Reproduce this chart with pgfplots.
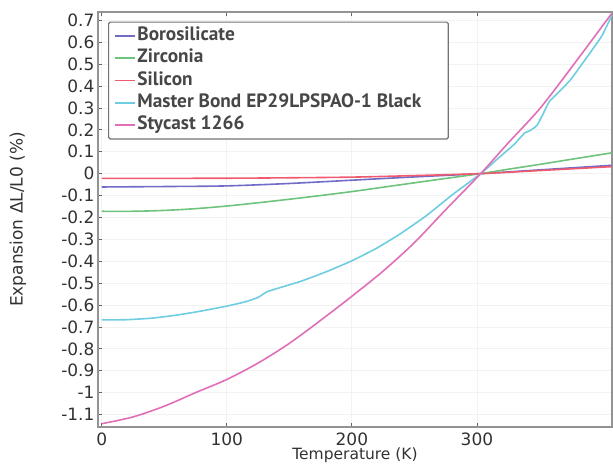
\documentclass[border=0pt]{standalone}
\usepackage{fontspec}
\setmainfont{DejaVu Sans}
\newfontfamily\legfont{PT Sans}
\usepackage{pgfplots}
\pgfplotsset{compat=1.18}

\definecolor{boro}{RGB}{112,108,200}
\definecolor{zirc}{RGB}{110,195,125}
\definecolor{sili}{RGB}{240,90,110}
\definecolor{mast}{RGB}{110,205,225}
\definecolor{styc}{RGB}{225,110,185}
\definecolor{txt}{RGB}{50,50,50}

\begin{document}
\begin{tikzpicture}
\begin{axis}[
    name=ax,
    scale only axis,
    width=514pt, height=415pt,
    xmin=-3, xmax=408,
    ymin=-1.157, ymax=0.738,
    xtick={0,100,200,300},
    ytick={-1.1,-1,-0.9,-0.8,-0.7,-0.6,-0.5,-0.4,-0.3,-0.2,-0.1,0,0.1,0.2,0.3,0.4,0.5,0.6,0.7},
    yticklabels={-1.1,-1,-0.9,-0.8,-0.7,-0.6,-0.5,-0.4,-0.3,-0.2,-0.1,0,0.1,0.2,0.3,0.4,0.5,0.6,0.7},
    xticklabels={0,100,200,300},
    ytick pos=left,
    tick align=inside,
    major tick length=4pt,
    tick style={gray!80!black, line width=0.8pt},
    axis line style={gray!85, line width=1.6pt},
    grid=major,
    major grid style={gray!10, line width=0.8pt},
    ticklabel style={font=\fontsize{17}{17}\selectfont, text=txt},
    xticklabel style={anchor=base, yshift=-18pt, inner sep=0.5pt},
    xlabel={Temperature (K)},
    ylabel={Expansion ΔL/L0 (\%)},
    xlabel style={at={(axis description cs:0.5,-0.078)}, anchor=base, inner sep=0.5pt,
        font=\fontsize{15.5}{15.5}\selectfont, text=txt},
    ylabel style={at={(axis description cs:-0.156,0.5)}, anchor=center,
        font=\fontsize{17}{17}\selectfont, text=txt},
    every axis plot/.append style={line width=1.6pt},
    legend cell align=left,
    legend image code/.code={\draw[#1, line width=1.8pt] (0pt,0pt) -- (20pt,0pt);},
    legend style={at={(axis description cs:0.0195,0.977)}, anchor=north west,
        draw=gray!90!black, line width=1.2pt, rounded corners=1.5pt,
        fill=white, inner xsep=5pt, inner ysep=5pt,
        row sep=4.2pt,
        font=\legfont\bfseries\fontsize{19.3}{20}\selectfont, text=black!72,
        nodes={inner xsep=2pt, inner ysep=0pt, text height=13.5pt, text depth=4.5pt}},
]
\addplot[boro, smooth] coordinates {
    (0,-0.061) (50,-0.059) (100,-0.056) (150,-0.045) (200,-0.03)
    (250,-0.015) (303,0.0) (350,0.017) (408,0.038)
};
\addlegendentry{Borosilicate}

\addplot[zirc, smooth] coordinates {
    (0,-0.172) (25,-0.172) (50,-0.168) (75,-0.16) (100,-0.148)
    (125,-0.133) (150,-0.117) (175,-0.1) (200,-0.082) (225,-0.062)
    (250,-0.042) (275,-0.022) (303,0) (325,0.02) (350,0.042)
    (375,0.065) (408,0.095)
};
\addlegendentry{Zirconia}

\addplot[sili, smooth] coordinates {
    (0,-0.022) (100,-0.021) (150,-0.019) (200,-0.016) (250,-0.009)
    (303,0.0) (350,0.014) (408,0.032)
};
\addlegendentry{Silicon}

\addplot[mast, smooth, tension=0.3] coordinates {
    (0,-0.668) (20,-0.667) (40,-0.66) (60,-0.646) (80,-0.627)
    (100,-0.605) (115,-0.585) (125,-0.565) (132,-0.54) (140,-0.525)
    (160,-0.49) (180,-0.447) (200,-0.398) (220,-0.34) (240,-0.27)
    (260,-0.19) (280,-0.098) (303,0) (318,0.075) (330,0.135)
    (338,0.185) (342,0.195) (348,0.22) (353,0.274) (358,0.33)
    (365,0.37) (375,0.43) (390,0.548) (400,0.63) (408,0.725)
};
\addlegendentry{Master Bond EP29LPSPAO-1 Black\hspace*{20pt}}

\addplot[styc, smooth] coordinates {
    (0,-1.142) (25,-1.111) (50,-1.062) (75,-1.0) (100,-0.94)
    (125,-0.865) (150,-0.775) (175,-0.67) (200,-0.56) (225,-0.445)
    (250,-0.315) (275,-0.165) (303,0) (325,0.14) (350,0.295)
    (375,0.48) (408,0.733)
};
\addlegendentry{Stycast 1266}
\end{axis}
\pgfresetboundingbox
\path ([shift={(-98pt,-37pt)}]ax.south west) rectangle ([shift={(1pt,12pt)}]ax.north east);
\end{tikzpicture}
\end{document}
